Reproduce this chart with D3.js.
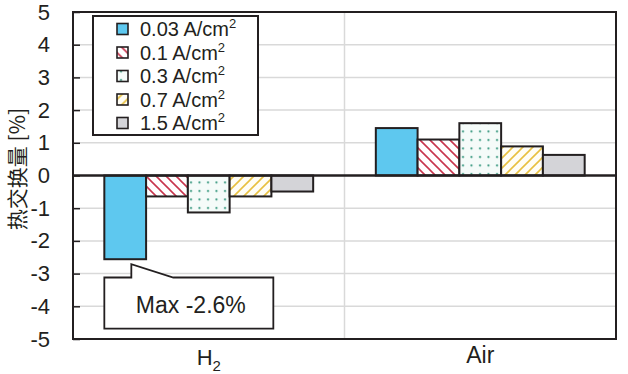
<!DOCTYPE html>
<html>
<head>
<meta charset="utf-8">
<script src="https://cdn.jsdelivr.net/npm/d3@7"></script>
<style>
  body { margin: 0; background: #fff; }
  text { font-family: "Liberation Sans", Arial, sans-serif; fill: #231f20; }
</style>
</head>
<body>
<div id="chart"></div>
<script>
// data
const categories = ["H2", "Air"];
const seriesNames = ["0.03", "0.1", "0.3", "0.7", "1.5"];
const valuesH2 = [-2.56, -0.64, -1.13, -0.64, -0.49];
const valuesAir = [1.45, 1.10, 1.60, 0.89, 0.63];
const yTicks = [-5, -4, -3, -2, -1, 0, 1, 2, 3, 4, 5];

const fills = ["#5ec8ef", "url(#stripeRed)", "url(#dots)", "url(#stripeYellow)", "#d4d4d8"];
const ink = "#231f20";

function renderChart() {
  const width = 628, height = 374;
  const margin = {top: 12, right: 12, bottom: 35, left: 73};

  const svg = d3.select("#chart").append("svg")
      .attr("width", width)
      .attr("height", height);

  const defs = svg.append("defs");

  const red = defs.append("pattern")
      .attr("id", "stripeRed")
      .attr("patternUnits", "userSpaceOnUse")
      .attr("width", 10).attr("height", 10);
  red.append("rect").attr("width", 10).attr("height", 10).attr("fill", "#fff");
  red.append("path")
      .attr("d", "M0,0L10,10M-5,5L5,15M5,-5L15,5")
      .attr("stroke", "#c8364e").attr("stroke-width", 1.6);

  const yel = defs.append("pattern")
      .attr("id", "stripeYellow")
      .attr("patternUnits", "userSpaceOnUse")
      .attr("width", 10).attr("height", 10);
  yel.append("rect").attr("width", 10).attr("height", 10).attr("fill", "#fffdf5");
  yel.append("path")
      .attr("d", "M0,10L10,0M-5,5L5,-5M5,15L15,5")
      .attr("stroke", "#e8c040").attr("stroke-width", 1.6);

  const dots = defs.append("pattern")
      .attr("id", "dots")
      .attr("patternUnits", "userSpaceOnUse")
      .attr("width", 8.5).attr("height", 8.5);
  dots.append("rect").attr("width", 8.5).attr("height", 8.5).attr("fill", "#f5fbf9");
  dots.append("circle").attr("cx", 4).attr("cy", 4).attr("r", 1.1).attr("fill", "#3c9a82");

  const x0 = d3.scaleBand()
      .domain(categories)
      .range([margin.left, width - margin.right]);

  const x1 = d3.scaleBand()
      .domain(seriesNames)
      .range([0, x0.bandwidth()])
      .paddingInner(0)
      .paddingOuter(0.75);

  const y = d3.scaleLinear()
      .domain([-5, 5])
      .range([height - margin.bottom, margin.top]);

  // gridlines
  svg.append("g")
      .selectAll("line")
      .data(yTicks.filter(d => d !== 0 && Math.abs(d) !== 5))
      .enter().append("line")
      .attr("x1", margin.left).attr("x2", width - margin.right)
      .attr("y1", d => y(d)).attr("y2", d => y(d))
      .attr("stroke", "#d9d9d9").attr("stroke-width", 1.5);

  // category separator
  svg.append("line")
      .attr("x1", x0("Air")).attr("x2", x0("Air"))
      .attr("y1", margin.top).attr("y2", height - margin.bottom)
      .attr("stroke", "#d9d9d9").attr("stroke-width", 1.5);

  // y axis
  const yAxis = svg.append("g")
      .attr("transform", `translate(${margin.left},0)`)
      .call(d3.axisLeft(y).tickValues(yTicks).tickSize(-7).tickPadding(23).tickFormat(d => String(d)));
  yAxis.select(".domain").remove();
  yAxis.selectAll(".tick line").attr("stroke", ink).attr("stroke-width", 1.5);
  yAxis.selectAll(".tick text")
      .style("font-size", "22px")
      .attr("fill", ink)
      .attr("font-family", "Liberation Sans, Arial, sans-serif");

  // bars
  const groups = [valuesH2, valuesAir];
  const g = svg.append("g");
  groups.forEach((vals, ci) => {
    g.selectAll(".bar-" + ci)
        .data(vals)
        .enter().append("rect")
        .attr("class", "bar-" + ci)
        .attr("x", (d, i) => x0(categories[ci]) + x1(seriesNames[i]))
        .attr("y", d => y(Math.max(0, d)))
        .attr("width", x1.bandwidth())
        .attr("height", d => Math.abs(y(d) - y(0)))
        .attr("fill", (d, i) => fills[i])
        .attr("stroke", ink)
        .attr("stroke-width", 2);
  });

  // zero line
  svg.append("line")
      .attr("x1", margin.left).attr("x2", width - margin.right)
      .attr("y1", y(0)).attr("y2", y(0))
      .attr("stroke", ink).attr("stroke-width", 2.5);

  // frame
  svg.append("rect")
      .attr("x", margin.left).attr("y", margin.top)
      .attr("width", width - margin.left - margin.right)
      .attr("height", height - margin.top - margin.bottom)
      .attr("fill", "none")
      .attr("stroke", ink).attr("stroke-width", 2);

  // x labels
  const h2 = svg.append("text")
      .attr("x", x0("H2") + x0.bandwidth() / 2)
      .attr("y", 365)
      .attr("text-anchor", "middle")
      .style("font-size", "22px");
  h2.append("tspan").text("H");
  h2.append("tspan").attr("dy", 6).style("font-size", "15px").text("2");

  svg.append("text")
      .attr("x", x0("Air") + x0.bandwidth() / 2)
      .attr("y", 363)
      .attr("text-anchor", "middle")
      .style("font-size", "23px")
      .text("Air");

  // y title
  svg.append("text")
      .attr("transform", "translate(25,169) rotate(-90)")
      .attr("text-anchor", "middle")
      .style("font-family", "'Noto Sans CJK SC', sans-serif")
      .style("font-size", "21px")
      .text("热交换量 [%]");

  // legend
  const legend = svg.append("g");
  legend.append("rect")
      .attr("x", 93).attr("y", 16)
      .attr("width", 165).attr("height", 119)
      .attr("fill", "#fff")
      .attr("stroke", ink).attr("stroke-width", 2);

  const rows = legend.selectAll(".row")
      .data(seriesNames)
      .enter().append("g")
      .attr("transform", (d, i) => `translate(117,${29 + i * 23.5})`);
  rows.append("rect")
      .attr("x", 0).attr("y", -5.5)
      .attr("width", 11).attr("height", 11)
      .attr("fill", (d, i) => fills[i])
      .attr("stroke", ink).attr("stroke-width", 1.6);
  const lt = rows.append("text")
      .attr("x", 23).attr("y", 7)
      .style("font-size", "20px");
  lt.append("tspan").text(d => d + " A/cm");
  lt.append("tspan").attr("dy", -8).style("font-size", "13px").text("2");

  // callout for the max
  const bx = x0("H2") + x1(seriesNames[0]);
  const top = y(-3.12), bottom = y(-4.68);
  const right = bx + 169;
  const tipY = y(valuesH2[0]) + 5;
  svg.append("path")
      .attr("d", `M${bx},${top}L${bx + 27},${top}L${bx + 27},${tipY}L${bx + 69},${top}L${right},${top}L${right},${bottom}L${bx},${bottom}Z`)
      .attr("fill", "#fff")
      .attr("stroke", ink).attr("stroke-width", 1.8);
  svg.append("text")
      .attr("x", (bx + right) / 2 + 2)
      .attr("y", 313)
      .attr("text-anchor", "middle")
      .style("font-size", "23px")
      .text("Max -2.6%");
}

renderChart();
</script>
</body>
</html>
